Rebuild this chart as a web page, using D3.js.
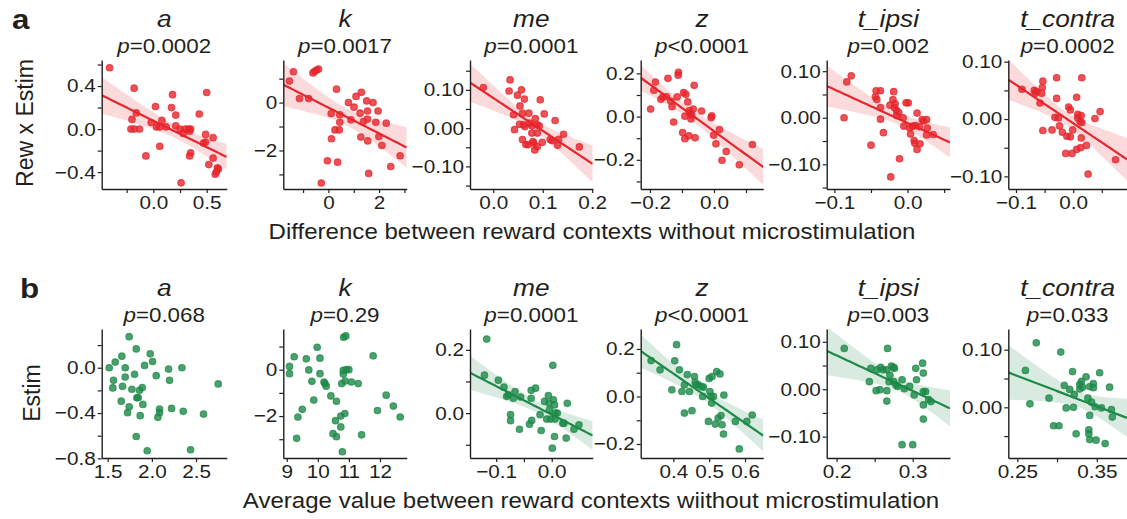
<!DOCTYPE html>
<html><head><meta charset="utf-8">
<script src="https://cdn.jsdelivr.net/npm/d3@7"></script>
<style>
html,body{margin:0;padding:0;background:#fff;}
svg text{font-family:"Liberation Sans",Arial,Helvetica,sans-serif;fill:#231f20;}
</style></head><body>
<svg id="chart" width="1127" height="519"></svg>
<script>
// ---- data -------------------------------------------------------------
const paramNames = ["a", "k", "me", "z", "t_ipsi", "t_contra"];
const pLabelsA = ["=0.0002", "=0.0017", "=0.0001", "<0.0001", "=0.002", "=0.0002"];
const pLabelsB = ["=0.068", "=0.29", "=0.0001", "<0.0001", "=0.003", "=0.033"];
const showFitA = [true, true, true, true, true, true];
const showFitB = [false, false, true, true, true, true];

// Row a: reward-context difference (x) vs Rew x Estim (y)
const aA_x = [-0.41,-0.18,-0.20,-0.16,-0.21,-0.18,-0.13,-0.07,-0.02,0.02,0.03,0.06,0.08,0.06,0.12,0.17,0.18,0.21,0.21,0.25,0.28,0.26,0.30,0.33,0.34,0.35,0.35,0.34,0.43,0.47,0.49,0.50,0.49,0.56,0.52,0.56,0.60,0.59,0.58,0.61];
const aA_y = [0.57,0.38,0.09,0.15,0.00,0.00,0.00,-0.25,0.06,0.21,0.02,0.02,0.08,-0.16,0.02,0.20,0.32,0.13,0.03,0.00,-0.04,-0.50,0.00,0.00,-0.02,0.00,-0.22,-0.25,0.14,-0.13,-0.12,0.34,-0.05,-0.08,-0.33,-0.27,-0.36,-0.40,-0.42,-0.37];
const kA_x = [-1.54,-1.38,-1.14,-0.78,-0.61,-0.54,-0.46,-0.39,-0.28,-0.04,0.11,0.12,0.26,0.32,0.36,0.43,0.45,0.45,0.79,0.89,1.01,1.09,1.25,1.28,1.30,1.38,1.51,1.54,1.54,1.55,1.59,1.76,1.87,1.96,1.99,2.11,2.28,2.46,2.83];
const kA_y = [0.90,1.29,0.17,0.17,1.24,1.31,1.36,1.40,-3.36,-2.43,-0.46,-1.51,-1.14,0.56,-2.49,-1.14,-0.51,-0.82,0.00,-0.72,-0.19,0.26,-0.44,-1.44,0.43,-0.79,0.07,-0.35,-0.69,-1.60,-2.96,0.00,-0.82,-0.35,-1.42,-1.79,-0.86,-2.67,-2.22];
const meA_x = [-0.020,0.034,0.032,0.057,0.049,0.063,0.041,0.043,0.054,0.053,0.059,0.061,0.064,0.059,0.066,0.072,0.074,0.078,0.080,0.071,0.082,0.085,0.084,0.088,0.089,0.089,0.095,0.093,0.099,0.103,0.115,0.119,0.125,0.130,0.132,0.142,0.174,0.078];
const meA_y = [0.106,0.126,0.097,0.100,0.086,0.076,0.035,-0.004,0.058,0.010,0.039,0.009,0.004,-0.030,-0.043,0.039,0.013,0.006,-0.035,-0.043,-0.039,0.025,-0.057,0.009,-0.013,-0.048,0.074,0.006,-0.037,0.037,-0.030,-0.033,0.020,-0.045,-0.029,-0.016,-0.049,-0.013];
const zA_x = [-0.198,-0.183,-0.188,-0.166,-0.160,-0.148,-0.144,-0.135,-0.131,-0.126,-0.115,-0.111,-0.112,-0.098,-0.095,-0.091,-0.091,-0.088,-0.082,-0.078,-0.075,-0.072,-0.070,-0.065,-0.062,-0.059,-0.039,-0.009,-0.007,-0.001,0.006,0.017,0.025,0.038,0.079,0.120,-0.077];
const zA_y = [0.035,0.160,0.122,0.080,0.091,0.092,0.177,0.072,0.046,-0.025,0.091,0.205,0.192,-0.074,0.111,0.002,-0.102,0.103,0.068,-0.089,0.015,-0.011,0.008,0.035,0.145,-0.098,0.026,-0.005,0.003,-0.086,-0.126,-0.060,-0.202,-0.162,-0.223,-0.129,0.028];
const tiA_x = [-0.0868,-0.083,-0.077,-0.050,-0.044,-0.043,-0.042,-0.037,-0.037,-0.037,-0.033,-0.024,-0.023,-0.020,-0.019,-0.018,-0.017,-0.015,-0.015,-0.012,-0.011,-0.006,-0.005,-0.002,0.001,0.003,0.004,0.007,0.009,0.010,0.011,0.013,0.013,0.017,0.020,0.022,0.026,0.027,0.026,0.035,0.016];
const tiA_y = [0.000,0.077,0.090,-0.059,0.045,0.058,0.039,0.058,0.022,-0.003,-0.032,0.027,-0.127,0.039,0.056,0.022,0.030,0.016,0.005,0.011,-0.088,0.000,-0.018,0.032,0.032,-0.022,-0.035,-0.018,-0.049,-0.055,-0.017,0.010,-0.068,-0.056,-0.004,-0.007,-0.004,-0.022,-0.037,-0.036,-0.019];
const tcA_x = [-0.0895,-0.068,-0.064,-0.066,-0.058,-0.055,-0.054,-0.053,-0.053,-0.037,-0.029,-0.029,-0.032,-0.026,-0.024,-0.019,-0.013,-0.011,-0.008,-0.005,-0.005,-0.002,-0.001,0.006,0.006,0.008,0.008,0.012,0.013,0.014,0.015,0.014,0.015,0.023,0.026,0.038,0.047,0.074];
const tcA_y = [0.052,0.050,0.048,0.045,0.028,0.045,0.055,0.066,-0.020,-0.019,0.072,0.036,0.003,0.002,-0.012,-0.023,-0.060,-0.030,0.021,0.016,-0.031,-0.060,-0.019,0.038,-0.053,0.008,0.002,-0.004,-0.050,0.006,0.072,-0.033,-0.006,-0.046,-0.096,0.001,0.013,-0.071];

// Row b: reward-context average (x) vs Estim (y)
const aB_x = [1.517,1.566,1.558,1.585,1.660,1.653,1.668,1.698,1.698,1.743,1.743,1.725,1.774,1.804,1.823,1.823,1.830,1.845,1.860,1.868,1.891,1.898,1.917,1.947,1.981,2.008,2.049,2.068,2.087,2.087,2.189,2.200,2.223,2.340,2.355,2.438,2.585,2.751];
const aB_y = [0.000,-0.111,-0.178,0.050,0.102,-0.295,-0.164,0.000,-0.082,0.274,-0.345,-0.397,-0.190,-0.058,0.166,-0.607,-0.266,-0.263,-0.199,-0.423,-0.175,-0.324,0.020,-0.733,0.123,0.055,-0.070,-0.438,-0.365,-0.397,-0.012,-0.111,-0.359,0.000,-0.385,-0.724,-0.409,-0.143];
const kB_x = [9.09,9.09,9.24,9.32,9.36,9.50,9.63,9.71,9.81,9.87,9.98,10.07,10.07,10.20,10.23,10.27,10.42,10.49,10.57,10.60,10.60,10.74,10.74,10.77,10.79,10.82,10.82,10.83,10.90,10.87,10.88,10.92,11.00,11.08,11.30,11.41,11.78,11.92,12.20,12.43,12.65];
const kB_y = [0.14,-0.17,0.56,-2.96,-2.04,-1.71,0.47,-0.01,-0.50,-1.31,0.97,0.50,-0.17,-0.53,-0.60,-0.71,-1.13,-2.76,-2.20,-1.36,-2.89,-2.00,-2.47,-0.60,-3.54,-0.03,-0.19,1.40,1.46,-1.89,-0.49,0.00,0.00,-0.53,-0.60,-2.81,0.60,-1.76,-1.10,-1.57,-2.04];
const meB_x = [-0.117,-0.121,-0.096,-0.086,-0.081,-0.078,-0.074,-0.074,-0.069,-0.066,-0.058,-0.056,-0.040,-0.037,-0.037,-0.036,-0.029,-0.021,-0.019,-0.013,-0.009,-0.006,-0.005,-0.004,-0.002,0.001,0.002,0.003,0.005,0.005,0.006,0.006,0.010,0.020,0.022,0.026,0.028,0.040,0.049];
const meB_y = [0.234,0.120,0.104,0.082,0.053,0.058,-0.005,-0.024,0.047,0.068,-0.051,0.051,-0.035,0.047,0.072,-0.023,0.079,-0.005,-0.055,0.037,-0.019,0.055,0.032,0.011,-0.019,-0.111,0.151,0.042,-0.074,0.026,0.000,-0.019,0.000,-0.032,-0.032,-0.079,0.031,-0.051,-0.037];
const zB_x = [0.338,0.363,0.396,0.404,0.409,0.417,0.424,0.431,0.431,0.439,0.445,0.452,0.459,0.461,0.465,0.470,0.479,0.484,0.482,0.498,0.500,0.502,0.505,0.508,0.507,0.512,0.517,0.521,0.525,0.530,0.533,0.536,0.540,0.541,0.573,0.584,0.605,0.620];
const zB_y = [0.151,0.112,0.028,0.150,0.218,0.112,0.021,0.049,-0.070,0.092,0.021,-0.060,0.084,0.059,0.049,0.049,0.042,0.039,0.000,-0.105,0.076,0.021,0.000,0.084,-0.028,0.000,-0.116,0.105,-0.091,0.095,-0.080,-0.119,-0.158,0.006,-0.105,-0.221,-0.105,-0.078];
const tiB_x = [0.210,0.243,0.245,0.252,0.253,0.257,0.258,0.261,0.266,0.266,0.267,0.266,0.269,0.270,0.272,0.275,0.276,0.275,0.278,0.280,0.286,0.286,0.289,0.296,0.300,0.302,0.304,0.305,0.313,0.314,0.314,0.314,0.317,0.314,0.321,0.324];
const tiB_y = [0.086,0.016,0.044,-0.003,0.041,-0.001,0.046,0.041,-0.003,-0.025,0.086,0.041,0.016,0.030,0.049,0.046,0.044,0.016,0.009,0.006,0.020,-0.117,0.001,0.006,-0.117,-0.012,0.044,0.020,0.055,0.034,-0.063,-0.005,-0.005,-0.033,-0.022,-0.026];
const tcB_x = [0.2602,0.2659,0.2739,0.2899,0.2956,0.3024,0.3047,0.3092,0.3115,0.3160,0.3195,0.3206,0.3217,0.3240,0.3286,0.3286,0.3308,0.3320,0.3365,0.3388,0.3400,0.3400,0.3411,0.3411,0.3411,0.3434,0.3457,0.3457,0.3479,0.3491,0.3536,0.3559,0.3605,0.3661,0.3684,0.3695];
const tcB_y = [0.064,0.006,0.112,0.016,-0.032,-0.032,0.096,0.038,-0.001,0.031,0.062,0.000,0.022,-0.046,0.040,0.032,0.045,0.035,0.053,0.016,-0.039,-0.046,-0.056,-0.014,0.036,0.009,0.041,0.034,0.001,-0.057,0.060,-0.001,-0.063,0.035,-0.004,-0.017];

// axis extents
const xDomainsA = [[-0.484,0.6875],[-1.78,3.09],[-0.047,0.201],[-0.229,0.154],[-0.1105,0.058],[-0.1134,0.094]];
const yDomainsA = [[-0.557,0.642],[-3.61,1.78],[-0.159,0.178],[-0.335,0.262],[-0.153,0.124],[-0.122,0.103]];
const xDomainsB = [[1.432,2.847],[8.89,12.86],[-0.147,0.0737],[0.309,0.651],[0.187,0.349],[0.2387,0.388]];
const yDomainsB = [[-0.797,0.342],[-3.81,1.757],[-0.142,0.266],[-0.259,0.284],[-0.145,0.127],[-0.088,0.136]];

// labelled ticks, unlabelled ticks, decimals
const xTicksA = [[0,0.5],[0,2],[0,0.1,0.2],[-0.2,0],[-0.1,0],[-0.1,0]];
const xMinorA = [[-0.25,0.25],[-1,1,3],[],[-0.1,0.1],[-0.05,0.05],[-0.05,0.05]];
const xDecA = [1,0,1,1,1,1];
const yTicksA = [[-0.4,0,0.4],[-2,0],[-0.1,0,0.1],[-0.2,0,0.2],[-0.1,0,0.1],[-0.1,0,0.1]];
const yMinorA = [[-0.2,0.2,0.6],[-3,-1,1],[-0.15,-0.05,0.05,0.15],[-0.3,-0.1,0.1],[-0.15,-0.05,0.05],[-0.05,0.05]];
const yDecA = [1,0,2,1,2,2];
const xTicksB = [[1.5,2.0,2.5],[9,10,11,12],[-0.1,0],[0.4,0.5,0.6],[0.2,0.3],[0.25,0.35]];
const xMinorB = [[],[],[-0.05],[],[0.25],[0.30]];
const xDecB = [1,0,1,1,1,2];
const yTicksB = [[-0.8,-0.4,0],[-2,0],[0,0.2],[-0.2,0,0.2],[-0.1,0,0.1],[0,0.1]];
const yMinorB = [[-0.6,-0.2,0.2],[-3,-1,1],[-0.1,0.1],[-0.1,0.1],[-0.05,0.05],[-0.05,0.05]];
const yDecB = [1,0,1,1,2,2];

const rowTitles = ["Difference between reward contexts without microstimulation",
                   "Average value between reward contexts wiithout microstimulation"];
const rowYLabels = ["Rew x Estim", "Estim"];
const rowLetters = ["a", "b"];

// ---- layout -----------------------------------------------------------
const SX = 1.12;  // horizontal text stretch
const colLeft  = [101.7, 283.3, 470, 640.7, 826.7, 1008.3];
const colRight = [226.7, 406.7, 592.7, 763.3, 950, 1127];
const rowTop = [60, 329], rowBottom = [189, 458];
const RED = "#e6262c", GREEN = "#1d8a48";

const svg = d3.select("#chart");

function stretchedText(parent, x, y, size, anchor) {
  return parent.append("g")
    .attr("transform", `translate(${x},${y}) scale(${SX},1)`)
    .append("text").attr("font-size", size).attr("text-anchor", anchor || "middle");
}

// least-squares fit with a 95% confidence band for the mean
function fitLine(xs, ys, domain) {
  const n = xs.length, mx = d3.mean(xs), my = d3.mean(ys);
  let sxx = 0, sxy = 0;
  xs.forEach((v, i) => { sxx += (v - mx) ** 2; sxy += (v - mx) * (ys[i] - my); });
  const b = sxy / sxx, a = my - b * mx;
  let sse = 0;
  xs.forEach((v, i) => { sse += (ys[i] - a - b * v) ** 2; });
  const s = Math.sqrt(sse / (n - 2)), t = 2.02;
  const grid = d3.range(0, 61).map(i => domain[0] + (domain[1] - domain[0]) * i / 60);
  return grid.map(g => {
    const yh = a + b * g;
    const se = s * Math.sqrt(1 / n + (g - mx) ** 2 / sxx);
    return { x: g, y: yh, lo: yh - t * se, hi: yh + t * se };
  });
}

function drawPanel(row, col, xs, ys, opt) {
  const g = svg.append("g");
  const x = d3.scaleLinear().domain(opt.xDomain).range([colLeft[col], colRight[col]]);
  const y = d3.scaleLinear().domain(opt.yDomain).range([rowBottom[row], rowTop[row]]);
  const color = opt.color;

  const clipId = `clip-${row}-${col}`;
  g.append("clipPath").attr("id", clipId).append("rect")
    .attr("x", colLeft[col]).attr("y", rowTop[row])
    .attr("width", colRight[col] - colLeft[col]).attr("height", rowBottom[row] - rowTop[row]);

  if (opt.fit) {
    const pts = fitLine(xs, ys, opt.xDomain);
    const body = g.append("g").attr("clip-path", `url(#${clipId})`);
    body.append("path").datum(pts)
      .attr("d", d3.area().x(d => x(d.x)).y0(d => y(d.lo)).y1(d => y(d.hi)))
      .attr("fill", color).attr("fill-opacity", 0.17);
    body.append("path").datum(pts)
      .attr("d", d3.line().x(d => x(d.x)).y(d => y(d.y)))
      .attr("fill", "none").attr("stroke", color).attr("stroke-width", 2.2);
  }

  g.append("g").selectAll("circle").data(xs.map((v, i) => [v, ys[i]])).join("circle")
    .attr("cx", d => x(d[0])).attr("cy", d => y(d[1])).attr("r", 3.3)
    .attr("fill", color).attr("fill-opacity", 0.8)
    .attr("stroke", color).attr("stroke-opacity", 0.75).attr("stroke-width", 1.1);

  const fx = d3.format(`.${opt.xDec}f`), fy = d3.format(`.${opt.yDec}f`);
  const isMajor = (list, v) => list.some(m => Math.abs(m - v) < 1e-9);
  const TS = 4, PAD = 2;

  const xAxis = d3.axisBottom(x)
    .tickValues(opt.xTicks.concat(opt.xMinor))
    .tickFormat(v => isMajor(opt.xTicks, v) ? fx(v) : "")
    .tickSize(TS).tickSizeOuter(0).tickPadding(PAD + 1);
  const gx = g.append("g").attr("transform", `translate(0,${rowBottom[row]})`).call(xAxis);

  const yAxis = d3.axisLeft(y)
    .tickValues(opt.yTicks.concat(opt.yMinor))
    .tickFormat(v => isMajor(opt.yTicks, v) ? fy(v) : "")
    .tickSize(TS).tickSizeOuter(0).tickPadding(PAD);
  const gy = g.append("g").attr("transform", `translate(${colLeft[col]},0)`).call(yAxis);

  [gx, gy].forEach(ax => {
    ax.select(".domain").attr("stroke", "#231f20").attr("stroke-width", 1.4);
    ax.selectAll(".tick line").attr("stroke", "#231f20").attr("stroke-width", 1.2);
    ax.selectAll("text").attr("font-size", 18.5).attr("fill", "#231f20")
      .attr("font-family", "Liberation Sans, Arial, sans-serif");
  });
  gx.selectAll(".tick text").attr("transform", `scale(${SX},1)`);
  gy.selectAll(".tick text").attr("transform", `scale(${SX},1)`).attr("x", -(TS + PAD) / SX);

  // panel title and p-value
  const cx = (colLeft[col] + colRight[col]) / 2;
  const titleY = row === 0 ? 27 : 296;
  stretchedText(svg, cx, titleY, 23.5).attr("font-style", "italic").text(opt.name);
  const pt = stretchedText(svg, cx, titleY + 25.5, 20);
  pt.append("tspan").attr("font-style", "italic").text("p");
  pt.append("tspan").text(opt.p);
}

const rows = [
  { xs: [aA_x, kA_x, meA_x, zA_x, tiA_x, tcA_x], ys: [aA_y, kA_y, meA_y, zA_y, tiA_y, tcA_y],
    xD: xDomainsA, yD: yDomainsA, xT: xTicksA, xM: xMinorA, xDec: xDecA,
    yT: yTicksA, yM: yMinorA, yDec: yDecA, p: pLabelsA, fit: showFitA, color: RED },
  { xs: [aB_x, kB_x, meB_x, zB_x, tiB_x, tcB_x], ys: [aB_y, kB_y, meB_y, zB_y, tiB_y, tcB_y],
    xD: xDomainsB, yD: yDomainsB, xT: xTicksB, xM: xMinorB, xDec: xDecB,
    yT: yTicksB, yM: yMinorB, yDec: yDecB, p: pLabelsB, fit: showFitB, color: GREEN }
];

rows.forEach((r, ri) => {
  paramNames.forEach((name, ci) => {
    drawPanel(ri, ci, r.xs[ci], r.ys[ci], {
      name, p: r.p[ci], fit: r.fit[ci], color: r.color,
      xDomain: r.xD[ci], yDomain: r.yD[ci],
      xTicks: r.xT[ci], xMinor: r.xM[ci], xDec: r.xDec[ci],
      yTicks: r.yT[ci], yMinor: r.yM[ci], yDec: r.yDec[ci]
    });
  });
});

// row letters and shared axis titles
stretchedText(svg, 12, 29, 28, "start").attr("font-weight", "bold").text(rowLetters[0]);
stretchedText(svg, 20, 298, 28, "start").attr("font-weight", "bold").text(rowLetters[1]);
stretchedText(svg, 592, 239, 21.5).text(rowTitles[0]);
stretchedText(svg, 591, 508, 21.5).text(rowTitles[1]);
svg.append("text").attr("font-size", 23).attr("text-anchor", "middle")
  .attr("transform", "translate(33,123) rotate(-90)").text(rowYLabels[0]);
svg.append("text").attr("font-size", 23).attr("text-anchor", "middle")
  .attr("transform", "translate(40,393) rotate(-90)").text(rowYLabels[1]);
</script>
</body></html>
